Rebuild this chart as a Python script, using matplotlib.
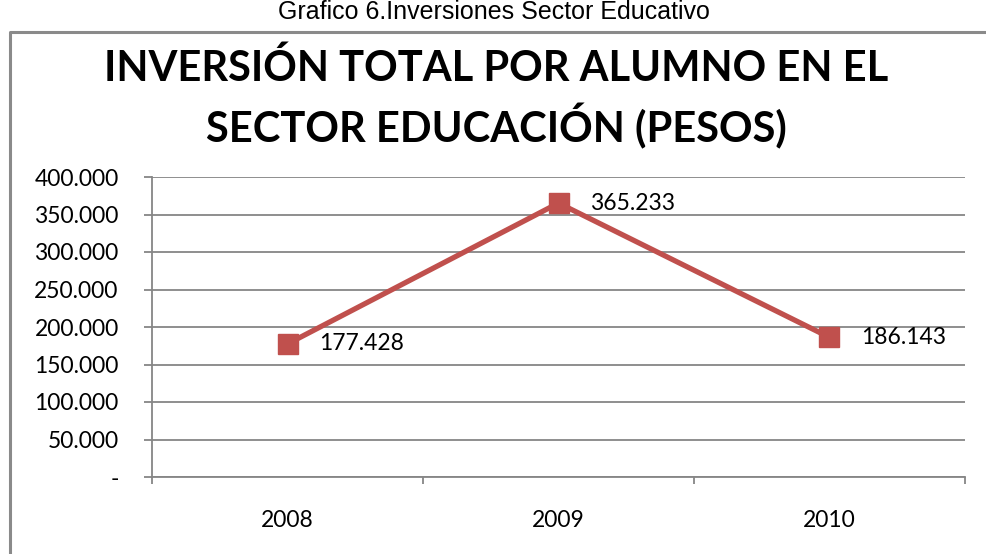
import matplotlib
matplotlib.use("Agg")
import matplotlib.pyplot as plt
from matplotlib.lines import Line2D
from matplotlib.ticker import FixedLocator, FuncFormatter

# data
years = ["2008", "2009", "2010"]
inversion = [177428, 365233, 186143]
y_ticks = [0, 50000, 100000, 150000, 200000, 250000, 300000, 350000, 400000]

caption = "Grafico 6.Inversiones Sector Educativo"
title = "INVERSIÓN TOTAL POR ALUMNO EN EL\nSECTOR EDUCACIÓN (PESOS)"

RED = "#C0504D"
GRID = "#868686"
FONT = ["Lato", "DejaVu Sans"]

W, H = 987, 554
fig = plt.figure(figsize=(W / 100, H / 100), dpi=100)

# chart frame (runs off the right and bottom edges like the screenshot)
fx = 10 / W
fy = 1 - 31.5 / H
fig.add_artist(Line2D([fx, fx, 1.01], [-0.01, fy, fy], transform=fig.transFigure,
                      color="#8a8a8a", lw=2.2))

fig.text(0.5, 1 - 12 / H, caption, ha="center", va="center",
         family=["Liberation Sans", "DejaVu Sans"], fontsize=18)
fig.text(0.503, 1 - 99 / H, title, ha="center", va="center", family=FONT,
         fontweight="bold", fontsize=30, linespacing=1.4)

ax = fig.add_axes([152 / W, 1 - 477 / H, (965 - 152) / W, 300 / H])
x = list(range(len(years)))
ax.plot(x, inversion, color=RED, lw=3.8, marker="s", markersize=14,
        markerfacecolor=RED, markeredgecolor=RED, zorder=3, clip_on=False)

for xi, v in zip(x, inversion):
    ax.annotate(f"{v:,.0f}".replace(",", "."), (xi, v), xytext=(23, 0),
                textcoords="offset points", ha="left", va="center",
                family=FONT, fontsize=16.5, color="black")

ax.set_xlim(-0.5, len(years) - 0.5)
ax.set_ylim(0, 400000)

ax.set_yticks(y_ticks)
ax.yaxis.set_major_formatter(FuncFormatter(
    lambda v, _: "-" if v == 0 else f"{v:,.0f}".replace(",", ".")))
ax.grid(axis="y", color=GRID, lw=1.3)
ax.set_axisbelow(True)

ax.set_xticks(x)
ax.set_xticklabels(years)
ax.xaxis.set_minor_locator(FixedLocator([i - 0.5 for i in range(len(years) + 1)]))

ax.tick_params(axis="y", length=6, width=1.3, color=GRID, pad=18, labelsize=16.5)
ax.tick_params(axis="x", which="major", length=0, pad=24, labelsize=16.5)
ax.tick_params(axis="x", which="minor", length=5, width=1.3, color=GRID)
for lab in ax.get_xticklabels() + ax.get_yticklabels():
    lab.set_family(FONT)

for side in ("top", "right"):
    ax.spines[side].set_visible(False)
for side in ("left", "bottom"):
    ax.spines[side].set_color(GRID)
    ax.spines[side].set_linewidth(1.3)

fig.savefig("out.png", dpi=100)
